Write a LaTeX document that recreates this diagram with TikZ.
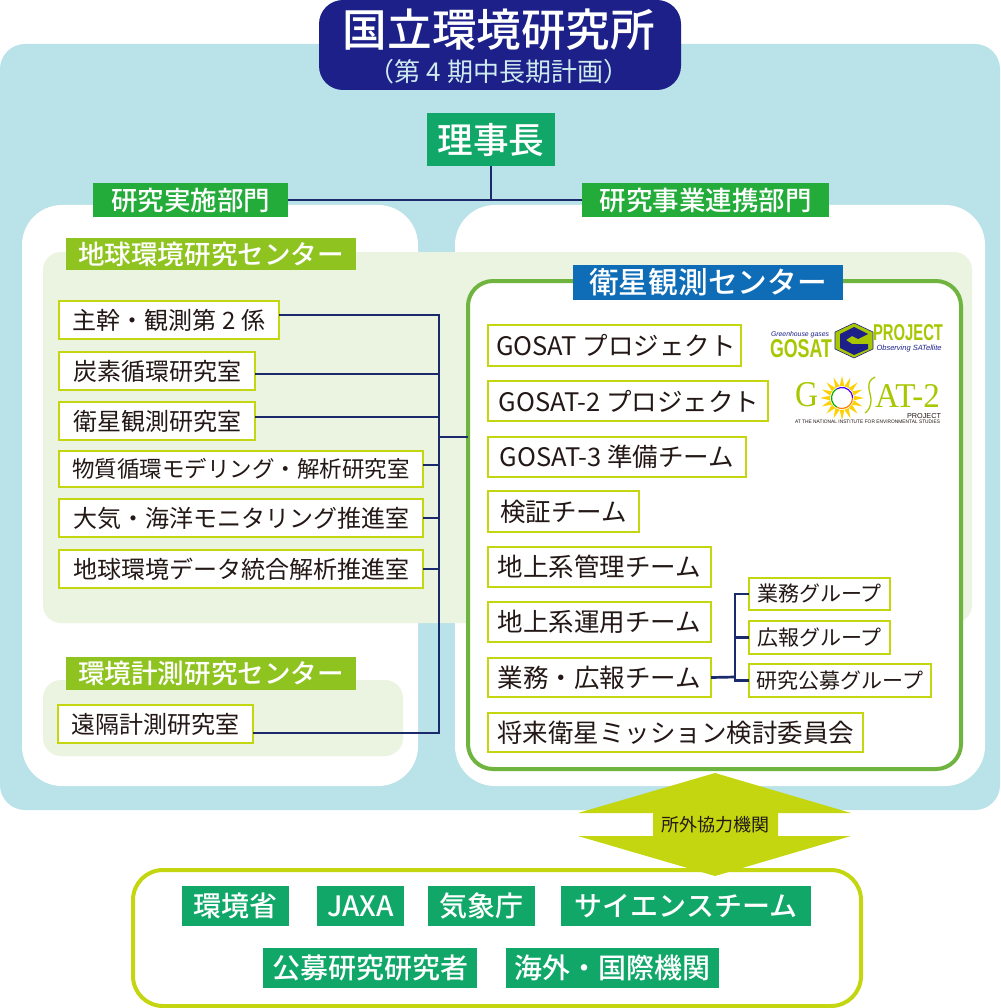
\documentclass[tikz,border=0pt]{standalone}
\usepackage{fontspec}
\usepackage{graphicx}
\usetikzlibrary{calc}
\setmainfont{Noto Sans CJK JP}
\newfontfamily\med{Noto Sans CJK JP Medium}
\newfontfamily\lat{Liberation Sans}
\newfontfamily\ser{Liberation Serif}
\definecolor{navy}{HTML}{1D2088}
\definecolor{lineblue}{HTML}{1B2A6B}
\definecolor{bgblue}{HTML}{B9E2E9}
\definecolor{palegreen}{HTML}{EBF4E0}
\definecolor{tealgreen}{HTML}{10A769}
\definecolor{brightgreen}{HTML}{23AC3A}
\definecolor{leaf}{HTML}{8FC31F}
\definecolor{satblue}{HTML}{0F6DB8}
\definecolor{frame}{HTML}{6FB43F}
\definecolor{lime}{HTML}{C3D60F}
\definecolor{textk}{HTML}{231815}
\newcommand{\fs}[1]{\fontsize{#1}{#1}\selectfont}
\newcommand{\bx}[7]{%
  \pgfmathsetmacro\wdt{#5-#3}\pgfmathsetmacro\hgt{#6-#4}%
  \node[#2,minimum width=\wdt pt,minimum height=\hgt pt,anchor=north west,inner sep=0pt,outer sep=0pt] (#1) at (#3,#4) {#7};}
\tikzset{
  panel/.style={fill=white,rounded corners=40pt},
  pale/.style={fill=palegreen,rounded corners=18pt},
  tagg/.style={fill=tealgreen,text=white},
  head/.style={fill=brightgreen,text=white,font=\med\fs{26.5}},
  leafhead/.style={fill=leaf,text=white,font=\med\fs{26.6}},
  item/.style={draw=lime,line width=2.6pt,fill=white,text=textk,font=\fs{24}},
  ritem/.style={item,font=\fs{25.5}},
  smallitem/.style={draw=lime,line width=2.3pt,fill=white,text=textk,font=\fs{21}},
  conn/.style={draw=lineblue,line width=2.7pt},
  outer tag/.style={fill=tealgreen,text=white,font=\med\fs{28}},
}
\begin{document}
\begin{tikzpicture}[x=1pt,y=-1pt]
\useasboundingbox (0,0) rectangle (1000,1008);
% backgrounds
\bx{bg}{fill=bgblue,rounded corners=25pt}{0}{44}{1000}{810}{}
\bx{leftpanel}{panel}{22}{205}{418}{786}{}
\bx{rightpanel}{panel}{455}{205}{985}{786}{}
\bx{paleA}{pale}{43}{252}{972}{623}{}
\bx{paleB}{pale}{43}{680}{403}{756}{}
\bx{satframe}{draw=frame,line width=4pt,fill=white,rounded corners=25pt}{468}{281}{961}{769}{}
% title
\node[fill=navy,rounded corners=24pt,minimum width=362pt,minimum height=90pt,anchor=north west,outer sep=0pt] (title) at (319,0) {};
\node[text=white,font=\med\fs{44.6}] (titletext) at (499,30) {国立環境研究所};
\node[text=bgblue!70!white,font=\fs{26}] (subtitle) at (499,72) {（第 4 期中長期計画）};
% top
\bx{chief}{tagg,font=\med\fs{35.7}}{427}{113}{555}{166}{理事長}
\bx{divA}{head}{93}{183}{288}{217}{研究実施部門}
\bx{divB}{head}{582}{183}{829}{217}{研究事業連携部門}
\coordinate (fork) at (chief.south |- divA.east);
\draw[conn] (chief.south) -- (fork);
\draw[conn] (divA.east) -- (divB.west);
% centres
\bx{earth}{leafhead}{66}{238}{356}{270}{地球環境研究センター}
\bx{envm}{leafhead}{66}{657}{356}{690}{環境計測研究センター}
\bx{sat}{fill=satblue,text=white,font=\med\fs{29.7}}{573}{265}{843}{300}{衛星観測センター}
% left items
\bx{l1}{item}{59}{301}{279}{339}{主幹・観測第 2 係}
\bx{l2}{item}{59}{352}{255}{390}{炭素循環研究室}
\bx{l3}{item}{59}{402}{255}{440}{衛星観測研究室}
\bx{l4}{item,font=\fs{22.5}}{59}{451}{423}{487}{物質循環モデリング・解析研究室}
\bx{l5}{item}{59}{499}{423}{537}{大気・海洋モニタリング推進室}
\bx{l6}{item}{59}{550}{423}{588}{地球環境データ統合解析推進室}
\bx{l7}{item}{58}{705}{253}{743}{遠隔計測研究室}
\coordinate (busT) at (439,315);
\coordinate (busB) at (439,733);
\draw[conn,line cap=rect] (busT) -- (busB);
\draw[conn] ([yshift=5pt]l1.east) -- (busT);
\draw[conn] ([yshift=-3pt]l2.east) -- ([yshift=-3pt]l2.east -| busT);
\draw[conn] ([yshift=4pt]l3.east) -- ([yshift=4pt]l3.east -| busT);
\draw[conn] ([yshift=4pt]l4.east) -- ([yshift=4pt]l4.east -| busT);
\draw[conn] (l5.east) -- (l5.east -| busT);
\draw[conn] (l6.east) -- (l6.east -| busT);
\draw[conn] ([yshift=-9pt]l7.east) -- (busB);
\coordinate (busM) at (439,437);
\draw[conn] (busM) -- (busM -| satframe.west);
% right items
\bx{r1}{ritem}{488}{325}{741}{366}{\hspace{3pt}GOSAT プロジェクト}
\bx{r2}{ritem}{488}{381}{768}{421}{\hspace{2pt}GOSAT-2 プロジェクト}
\bx{r3}{ritem}{488}{437}{746}{477}{GOSAT-3 準備チーム}
\bx{r4}{ritem}{488}{491}{639}{532}{検証チーム}
\bx{r5}{ritem}{488}{547}{711}{587}{地上系管理チーム}
\bx{r6}{ritem}{488}{602}{711}{642}{地上系運用チーム}
\bx{r7}{ritem}{488}{658}{711}{697}{業務・広報チーム}
\bx{r8}{ritem}{488}{713}{863}{752}{将来衛星ミッション検討委員会}
\bx{s1}{smallitem}{749}{578}{890}{610}{業務グループ}
\bx{s2}{smallitem}{749}{621}{890}{654}{広報グループ}
\bx{s3}{smallitem}{749}{664}{931}{697}{研究公募グループ}
\coordinate (tree) at (735,677);
\draw[conn] (r7.east) -- (tree);
\draw[conn] ([yshift=0pt]s1.west) -| (tree);
\draw[conn] (s2.west) -- (s2.west -| tree);
\draw[conn] (s3.west) -| (tree);
% GOSAT logo
\definecolor{logog}{HTML}{A9C700}
\node[inner sep=0pt,text=logog] (lgA) at (801,349) {\resizebox{62pt}{18pt}{\lat\bfseries GOSAT}};
\node[inner sep=0pt,text=logog] (lgB) at (908,332.5) {\resizebox{70pt}{16pt}{\lat\bfseries PROJECT}};
\node[inner sep=0pt,text=navy] (lgC) at (800,335) {\resizebox{58pt}{!}{\lat\itshape Greenhouse gases}};
\node[inner sep=0pt,text=navy] (lgD) at (909,349) {\resizebox{65pt}{!}{\lat\itshape Observing SATellite}};
\fill[logog,draw=navy,line width=.6pt] (854,323) -- (873,332) -- (873,349) -- (854,358) -- (835,349) -- (835,332) -- cycle;
\fill[navy] (854,327) -- (868,334) -- (858,339) -- (852,336) -- (846,340) -- (852,344) -- (868,344) -- (868,349) -- (854,355) -- (840,348) -- (840,334) -- cycle;
% GOSAT-2 logo
\node[inner sep=0pt,text=logog] (g2A) at (806.5,395) {\resizebox{23pt}{24pt}{\ser G}};
\foreach \a in {0,22.5,...,337.5}{
  \fill[yellow!70!orange] ($(842,398)+(\a-11.25:12)$) -- ($(842,398)+(\a:22)$) -- ($(842,398)+(\a+11.25:12)$) -- cycle;
}
\fill[white] (842,398) circle (11.5);
\draw[orange,line width=1.2pt] (842,398) ++(0:10.5) arc (0:120:10.5);
\draw[green!70!black,line width=1.2pt] (842,398) ++(120:10.5) arc (120:240:10.5);
\draw[blue!70!magenta,line width=1.2pt] (842,398) ++(240:10.5) arc (240:360:10.5);
\draw[logog,line width=1.3pt] (875,377) .. controls (864,382) and (871,393) .. (871,400) .. controls (871,407) and (868,411) .. (865,413);
\node[inner sep=0pt,text=logog] (g2B) at (907.5,395.5) {\resizebox{65pt}{23pt}{\ser AT-2}};
\node[inner sep=0pt,text=textk] (g2C) at (924,416) {\resizebox{34pt}{5pt}{\lat PROJECT}};
\node[inner sep=0pt,text=textk] (g2D) at (867.5,422) {\resizebox{145pt}{3.5pt}{\lat AT THE NATIONAL INSTITUTE FOR ENVIRONMENTAL STUDIES}};
% bottom
\bx{partners}{draw=lime,line width=4pt,fill=white,rounded corners=30pt}{133}{870}{861}{1006}{}
\draw[draw=none,fill=lime] (715,773) -- (851,813) -- (778,813) -- (778,836) -- (851,836) -- (715,876) -- (578,836) -- (653,836) -- (653,813) -- (578,813) -- cycle;
\node[text=textk,font=\fs{18}] (coop) at (715.5,825) {所外協力機関};
\bx{o1}{outer tag}{182}{886}{289}{926}{環境省}
\bx{o2}{outer tag}{317}{886}{404}{926}{JAXA}
\bx{o3}{outer tag}{428}{886}{535}{926}{気象庁}
\bx{o4}{outer tag}{561}{886}{811}{926}{サイエンスチーム}
\bx{o5}{outer tag}{263}{948}{477}{988}{公募研究研究者}
\bx{o6}{outer tag}{506}{948}{719}{988}{海外・国際機関}
\end{tikzpicture}
\end{document}
